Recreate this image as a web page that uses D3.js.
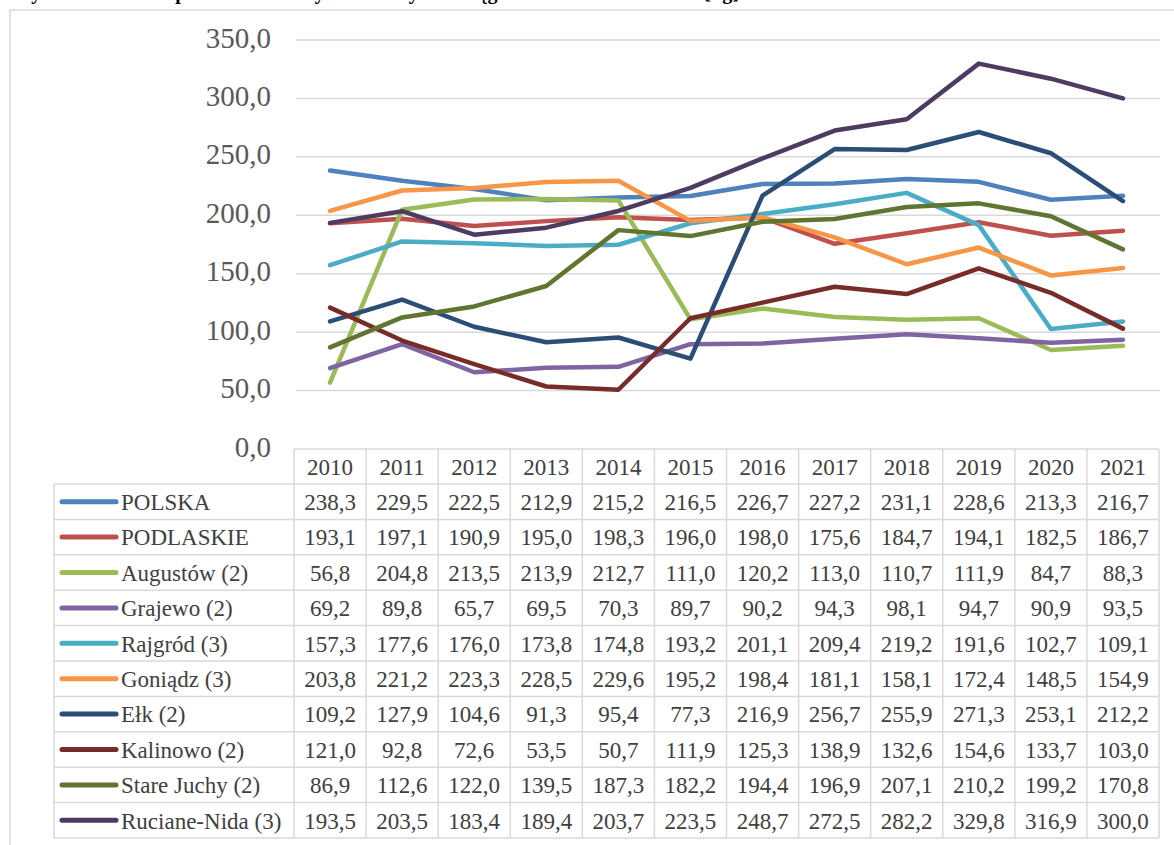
<!DOCTYPE html>
<html>
<head>
<meta charset="utf-8">
<script src="https://cdn.jsdelivr.net/npm/d3@7"></script>
<style>
  body { margin: 0; background: #fff; }
  svg text { font-family: 'Liberation Serif', 'DejaVu Serif', serif; }
</style>
</head>
<body>
<div id="chart"></div>
<script>
// years on the x axis
let years = ['2010', '2011', '2012', '2013', '2014', '2015', '2016', '2017', '2018', '2019', '2020', '2021'];

// series names (legend / table rows)
let names = ['POLSKA', 'PODLASKIE', 'Augustów (2)', 'Grajewo (2)', 'Rajgród (3)', 'Goniądz (3)',
  'Ełk (2)', 'Kalinowo (2)', 'Stare Juchy (2)', 'Ruciane-Nida (3)'];

// values per series, kg per inhabitant
let polska = [238.3, 229.5, 222.5, 212.9, 215.2, 216.5, 226.7, 227.2, 231.1, 228.6, 213.3, 216.7];
let podlaskie = [193.1, 197.1, 190.9, 195.0, 198.3, 196.0, 198.0, 175.6, 184.7, 194.1, 182.5, 186.7];
let augustow = [56.8, 204.8, 213.5, 213.9, 212.7, 111.0, 120.2, 113.0, 110.7, 111.9, 84.7, 88.3];
let grajewo = [69.2, 89.8, 65.7, 69.5, 70.3, 89.7, 90.2, 94.3, 98.1, 94.7, 90.9, 93.5];
let rajgrod = [157.3, 177.6, 176.0, 173.8, 174.8, 193.2, 201.1, 209.4, 219.2, 191.6, 102.7, 109.1];
let goniadz = [203.8, 221.2, 223.3, 228.5, 229.6, 195.2, 198.4, 181.1, 158.1, 172.4, 148.5, 154.9];
let elk = [109.2, 127.9, 104.6, 91.3, 95.4, 77.3, 216.9, 256.7, 255.9, 271.3, 253.1, 212.2];
let kalinowo = [121.0, 92.8, 72.6, 53.5, 50.7, 111.9, 125.3, 138.9, 132.6, 154.6, 133.7, 103.0];
let stareJuchy = [86.9, 112.6, 122.0, 139.5, 187.3, 182.2, 194.4, 196.9, 207.1, 210.2, 199.2, 170.8];
let rucianeNida = [193.5, 203.5, 183.4, 189.4, 203.7, 223.5, 248.7, 272.5, 282.2, 329.8, 316.9, 300.0];

// y axis ticks
let yTicks = [0, 50, 100, 150, 200, 250, 300, 350];

let colors = ['#4F81BD', '#C0504D', '#9BBB59', '#8064A2', '#4BACC6', '#F79646',
  '#2C4D75', '#772C2A', '#5F7530', '#4D3B62'];

let allValues = [polska, podlaskie, augustow, grajewo, rajgrod, goniadz, elk, kalinowo, stareJuchy, rucianeNida];
let series = names.map((n, i) => ({ name: n, values: allValues[i], color: colors[i] }));

let width = 1174;
let height = 845;
let fmt = v => v.toFixed(1).replace('.', ',');
let serif = "'Liberation Serif', 'DejaVu Serif', serif";

// layout
let tableLeft = 54;
let plotLeft = 294;
let plotRight = 1159;
let plotTop = 40;
let plotBottom = 449;
let headerH = 35;
let rowH = 35.4;
let fontSize = 23;
let axisFontSize = 29;
let textColor = '#404040';
let gridColor = '#d9d9d9';

let svg = d3.select('#chart')
  .append('svg')
  .attr('width', width)
  .attr('height', height)
  .attr('font-family', serif);

// title (cut off at top of the picture, as in the source)
svg.append('text')
  .attr('x', 12)
  .attr('y', -1.5)
  .attr('font-size', '20px')
  .attr('font-weight', 'bold')
  .attr('font-family', serif)
  .attr('fill', '#000')
  .text('Wykres 4. Masa odpadów zmieszanych zebranych w ciągu roku na 1 mieszkańca [kg]');

// outer frame
svg.append('rect')
  .attr('x', 10)
  .attr('y', 10)
  .attr('width', width)
  .attr('height', height)
  .attr('fill', 'none')
  .attr('stroke', gridColor)
  .attr('stroke-width', 1.5);

let x = d3.scaleBand()
  .domain(years)
  .range([plotLeft, plotRight]);

let y = d3.scaleLinear()
  .domain([0, 350])
  .range([plotBottom, plotTop]);

// gridlines
svg.append('g')
  .selectAll('line')
  .data(yTicks.filter(d => d > 0))
  .enter()
  .append('line')
  .attr('x1', plotLeft + 2)
  .attr('x2', plotRight + 1)
  .attr('y1', d => y(d))
  .attr('y2', d => y(d))
  .attr('stroke', gridColor)
  .attr('stroke-width', 1.5);

// y labels
svg.append('g')
  .selectAll('text')
  .data(yTicks)
  .enter()
  .append('text')
  .attr('x', 271)
  .attr('y', d => y(d) - 2)
  .attr('dy', '0.33em')
  .attr('text-anchor', 'end')
  .attr('font-size', axisFontSize + 'px')
  .attr('font-family', serif)
  .attr('fill', '#595959')
  .text(d => fmt(d));

// data table
let table = svg.append('g');
let tableBottom = plotBottom + headerH + rowH * series.length;

// horizontal rules
let rowTops = [plotBottom, plotBottom + headerH];
series.forEach((s, i) => rowTops.push(plotBottom + headerH + rowH * (i + 1)));
table.selectAll('.hrule')
  .data(rowTops)
  .enter()
  .append('line')
  .attr('class', 'hrule')
  .attr('x1', (d, i) => i === 0 ? plotLeft : tableLeft)
  .attr('x2', plotRight)
  .attr('y1', d => d)
  .attr('y2', d => d)
  .attr('stroke', gridColor)
  .attr('stroke-width', 1.5);

// vertical rules
let colEdges = years.map(yr => x(yr)).concat([plotRight]);
table.selectAll('.vrule')
  .data(colEdges)
  .enter()
  .append('line')
  .attr('class', 'vrule')
  .attr('x1', d => d)
  .attr('x2', d => d)
  .attr('y1', plotBottom)
  .attr('y2', tableBottom)
  .attr('stroke', gridColor)
  .attr('stroke-width', 1.5);

table.append('line')
  .attr('x1', tableLeft)
  .attr('x2', tableLeft)
  .attr('y1', plotBottom + headerH)
  .attr('y2', tableBottom)
  .attr('stroke', gridColor)
  .attr('stroke-width', 1.5);

// year header
table.selectAll('.year')
  .data(years)
  .enter()
  .append('text')
  .attr('class', 'year')
  .attr('x', d => x(d) + x.bandwidth() / 2)
  .attr('y', plotBottom + headerH / 2)
  .attr('dy', '0.36em')
  .attr('text-anchor', 'middle')
  .attr('font-size', fontSize + 'px')
  .attr('font-family', serif)
  .attr('fill', textColor)
  .text(d => d);

// rows
let rows = table.selectAll('.row')
  .data(series)
  .enter()
  .append('g')
  .attr('class', 'row')
  .attr('transform', (d, i) => 'translate(0,' + (plotBottom + headerH + rowH * i + rowH / 2) + ')');

rows.append('line')
  .attr('x1', 62)
  .attr('x2', 116)
  .attr('y1', 0)
  .attr('y2', 0)
  .attr('stroke', d => d.color)
  .attr('stroke-width', 5)
  .attr('stroke-linecap', 'round');

rows.append('text')
  .attr('x', 121)
  .attr('y', 0)
  .attr('dy', '0.36em')
  .attr('font-size', fontSize + 'px')
  .attr('font-family', serif)
  .attr('fill', textColor)
  .text(d => d.name);

rows.selectAll('.val')
  .data(d => d.values)
  .enter()
  .append('text')
  .attr('class', 'val')
  .attr('x', (d, i) => x(years[i]) + x.bandwidth() / 2)
  .attr('y', 0)
  .attr('dy', '0.36em')
  .attr('text-anchor', 'middle')
  .attr('font-size', fontSize + 'px')
  .attr('font-family', serif)
  .attr('fill', textColor)
  .text(d => fmt(d));

// lines
let line = d3.line()
  .x((d, i) => x(years[i]) + x.bandwidth() / 2)
  .y(d => y(d));

svg.append('g')
  .selectAll('path')
  .data(series)
  .enter()
  .append('path')
  .attr('d', d => line(d.values))
  .attr('fill', 'none')
  .attr('stroke', d => d.color)
  .attr('stroke-width', 4.5)
  .attr('stroke-linejoin', 'round')
  .attr('stroke-linecap', 'round');
</script>
</body>
</html>
